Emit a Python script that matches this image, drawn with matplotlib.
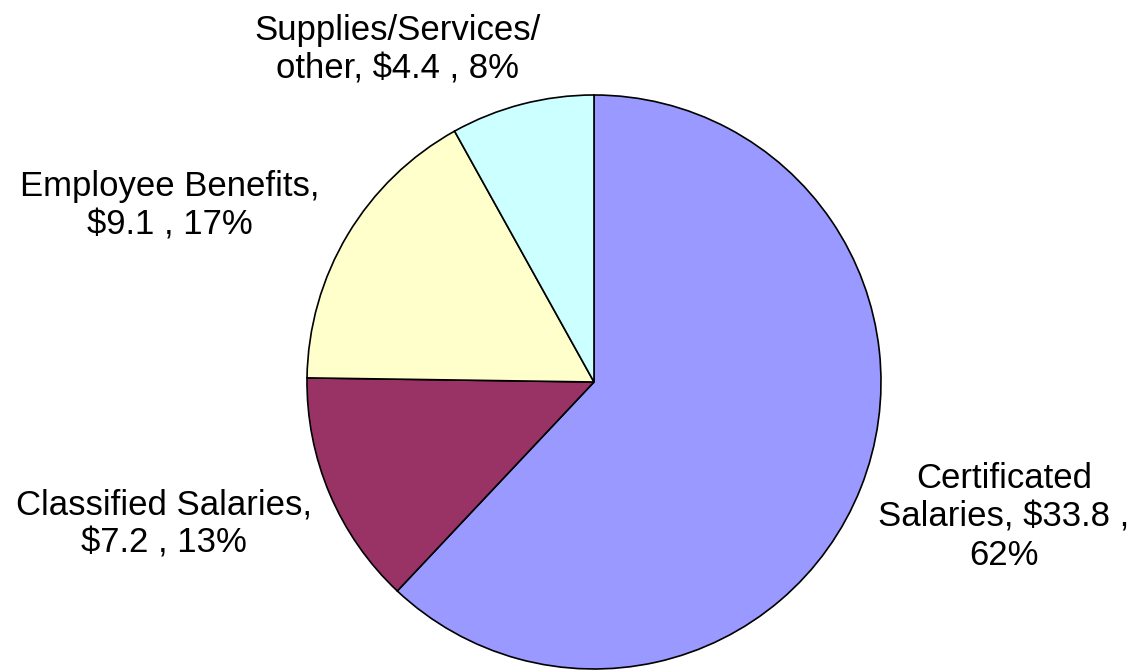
import matplotlib
matplotlib.use("Agg")
import matplotlib.pyplot as plt

# spending categories, millions of dollars
categories = ["Certificated\nSalaries", "Classified Salaries", "Employee Benefits", "Supplies/Services/\nother"]
amounts = [33.8, 7.2, 9.1, 4.4]
colors = ["#9999FF", "#993366", "#FFFFCC", "#CCFFFF"]

plt.rcParams['font.family'] = ['Liberation Sans', 'DejaVu Sans']

fig = plt.figure(figsize=(11.33, 6.70), dpi=100)
# pie centre at (594, 382) px, radius 287 px
ax = fig.add_axes([(594 - 287) / 1133, (288 - 287) / 670, 574 / 1133, 574 / 670])
ax.pie(amounts, colors=colors, startangle=90, counterclock=False,
       wedgeprops=dict(edgecolor="black", linewidth=1.2), radius=1)
ax.set_xlim(-1, 1)
ax.set_ylim(-1, 1)
ax.set_aspect("equal")
ax.axis("off")

total = sum(amounts)
texts = []
for name, val in zip(categories, amounts):
    pct = round(val / total * 100)
    if name.startswith("Certificated"):
        texts.append("Certificated\nSalaries, ${:.1f} ,\n{}%".format(val, pct))
    elif name.startswith("Supplies"):
        texts.append("Supplies/Services/\nother, ${:.1f} , {}%".format(val, pct))
    else:
        texts.append("{},\n${:.1f} , {}%".format(name, val, pct))

# label positions in pie units
label_pos = [(1.429, -0.47), (-1.498, -0.495), (-1.477, 0.613), (-0.686, 1.157)]
for t, (x, y) in zip(texts, label_pos):
    ax.text(x, y, t, ha="center", va="center", multialignment="center",
            fontsize=25, clip_on=False)

fig.savefig("out.png", dpi=100)
